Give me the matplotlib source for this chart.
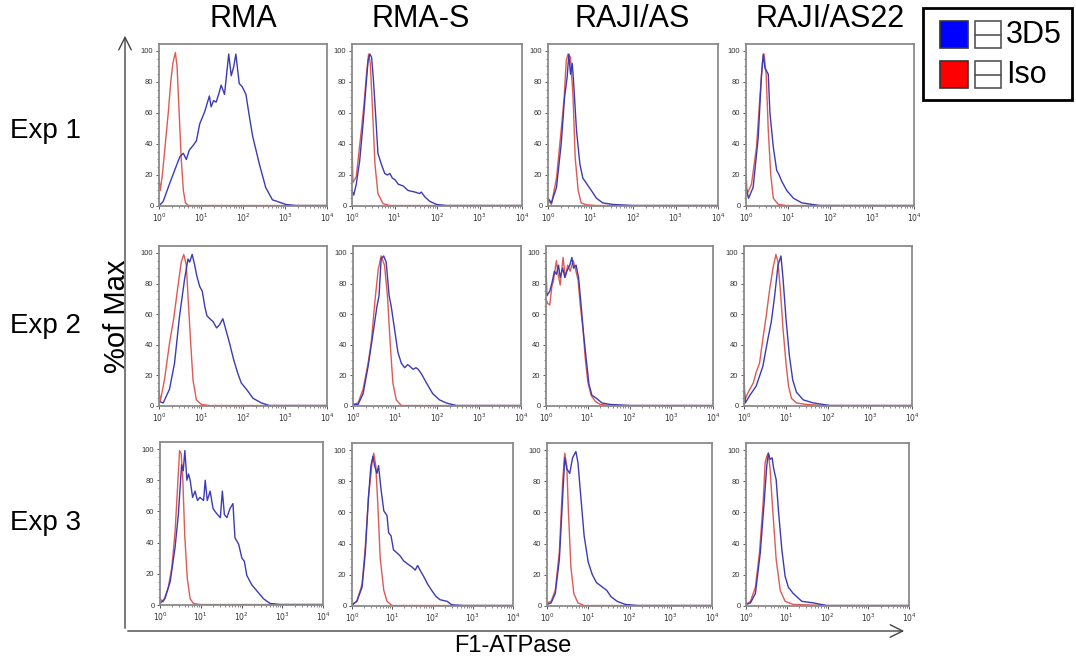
import numpy as np
import matplotlib
matplotlib.use("Agg")
import matplotlib.pyplot as plt
from matplotlib.ticker import FixedLocator, LogLocator, NullFormatter, MultipleLocator

plt.rcParams['font.family'] = ['Liberation Sans', 'DejaVu Sans']

# ---- data: (log10 fluorescence, % of max) ----
cell_lines = ["RMA", "RMA-S", "RAJI/AS", "RAJI/AS22"]
experiments = ["Exp 1", "Exp 2", "Exp 3"]
series_names = ["3D5", "Iso"]

# Exp 1
rma1_3d5 = [(0, 0), (0.1, 3), (0.26, 15), (0.4, 25), (0.5, 32), (0.58, 34), (0.65, 30), (0.72, 36),
            (0.81, 39), (0.89, 42), (0.97, 53), (1.09, 61), (1.2, 71), (1.24, 64), (1.3, 68),
            (1.36, 67), (1.42, 72), (1.48, 78), (1.56, 72), (1.66, 98), (1.72, 84), (1.78, 90),
            (1.83, 98), (1.91, 79), (1.98, 77), (2.07, 72), (2.15, 58), (2.23, 45), (2.39, 27),
            (2.54, 12), (2.7, 4), (3.02, 1), (3.25, 0.3), (4.0, 0.3)]
rma1_iso = [(0, 18), (0.03, 10), (0.08, 20), (0.15, 40), (0.22, 60), (0.28, 80), (0.33, 92),
            (0.39, 99), (0.43, 90), (0.48, 60), (0.53, 30), (0.58, 10), (0.63, 2), (0.7, 0.3), (4.0, 0.3)]
rmas1_3d5 = [(0, 10), (0.04, 7), (0.1, 14), (0.18, 29), (0.26, 53), (0.34, 81), (0.38, 94), (0.42, 98),
             (0.46, 96), (0.5, 83), (0.56, 57), (0.61, 34), (0.69, 27), (0.77, 21), (0.83, 20),
             (0.89, 21), (0.95, 18), (1.01, 17), (1.09, 14), (1.2, 13), (1.32, 10), (1.48, 9),
             (1.59, 8), (1.63, 9), (1.71, 6), (1.83, 3), (1.99, 1), (2.22, 0.3), (4.0, 0.3)]
rmas1_iso = [(0, 45), (0.02, 15), (0.1, 19), (0.22, 49), (0.28, 65), (0.34, 85), (0.39, 98),
             (0.43, 92), (0.48, 64), (0.54, 27), (0.61, 8), (0.73, 1.5), (0.89, 0.3), (4.0, 0.3)]
raji1_3d5 = [(0, 5), (0.08, 2), (0.2, 12), (0.31, 40), (0.39, 70), (0.45, 83), (0.49, 98), (0.53, 85),
             (0.57, 92), (0.6, 81), (0.67, 49), (0.75, 27), (0.82, 18), (0.92, 14), (1.02, 10),
             (1.14, 5), (1.29, 2), (1.53, 1), (2.0, 0.3), (4.0, 0.3)]
raji1_iso = [(0, 4), (0.08, 1), (0.2, 18), (0.31, 49), (0.38, 70), (0.43, 94), (0.47, 98), (0.53, 96),
             (0.59, 70), (0.64, 31), (0.71, 10), (0.78, 2), (0.9, 0.8), (1.14, 0.3), (4.0, 0.3)]
raji22_1_3d5 = [(0, 12), (0.06, 5), (0.17, 12), (0.29, 44), (0.37, 85), (0.41, 98), (0.45, 89),
                (0.49, 87), (0.53, 85), (0.57, 60), (0.65, 38), (0.73, 23), (0.79, 20), (0.85, 16),
                (0.97, 10), (1.13, 5), (1.33, 2), (1.76, 0.3), (4.0, 0.3)]
raji22_1_iso = [(0, 20), (0.03, 8), (0.13, 14), (0.25, 38), (0.33, 70), (0.39, 92), (0.43, 98),
                (0.48, 85), (0.53, 49), (0.59, 20), (0.65, 5), (0.77, 1), (0.97, 0.3), (4.0, 0.3)]

# Exp 2
rma2_3d5 = [(0, 3), (0.1, 2), (0.25, 11), (0.37, 28), (0.49, 59), (0.61, 83), (0.69, 96), (0.73, 94),
            (0.79, 99), (0.85, 92), (0.9, 85), (0.97, 78), (1.03, 75), (1.09, 65), (1.14, 59),
            (1.21, 57), (1.29, 55), (1.37, 51), (1.44, 53), (1.52, 57), (1.59, 50), (1.68, 41),
            (1.78, 30), (1.88, 21), (1.96, 15), (2.08, 11), (2.24, 5), (2.44, 2), (2.63, 0.3), (4.0, 0.3)]
rma2_iso = [(0, 10), (0.03, 3), (0.13, 17), (0.25, 41), (0.35, 57), (0.45, 78), (0.53, 94), (0.59, 99),
            (0.65, 92), (0.69, 72), (0.75, 43), (0.81, 17), (0.89, 4), (1.01, 1), (1.21, 0.3), (4.0, 0.3)]
rmas2_3d5 = [(0, 1), (0.12, 1), (0.24, 8), (0.36, 26), (0.48, 48), (0.57, 65), (0.62, 72), (0.67, 96),
             (0.73, 98), (0.79, 94), (0.86, 72), (0.91, 65), (0.99, 50), (1.07, 35), (1.15, 28),
             (1.23, 25), (1.3, 27), (1.35, 26), (1.43, 24), (1.5, 25), (1.55, 24), (1.63, 21),
             (1.75, 15), (1.9, 8), (2.06, 4), (2.22, 2), (2.46, 0.3), (4.0, 0.3)]
rmas2_iso = [(0, 1), (0.12, 2), (0.24, 11), (0.36, 28), (0.44, 43), (0.52, 68), (0.6, 89), (0.67, 98),
             (0.75, 92), (0.82, 72), (0.89, 39), (0.95, 15), (1.03, 4), (1.15, 0.3), (4.0, 0.3)]
raji2_3d5 = [(0, 92), (0.02, 72), (0.09, 75), (0.14, 80), (0.2, 88), (0.25, 86), (0.3, 92), (0.34, 84),
             (0.4, 90), (0.45, 84), (0.5, 88), (0.57, 92), (0.62, 97), (0.66, 90), (0.72, 92),
             (0.78, 84), (0.84, 66), (0.9, 47), (0.97, 29), (1.03, 14), (1.1, 7), (1.21, 5),
             (1.34, 2), (1.54, 1), (2.02, 0.3), (4.0, 0.3)]
raji2_iso = [(0, 70), (0.04, 67), (0.09, 66), (0.14, 78), (0.18, 82), (0.25, 95), (0.29, 86), (0.34, 79),
             (0.41, 97), (0.46, 84), (0.52, 92), (0.58, 88), (0.65, 95), (0.7, 90), (0.77, 82),
             (0.82, 66), (0.89, 49), (0.94, 31), (1.0, 16), (1.08, 7), (1.18, 3), (1.3, 1),
             (1.54, 0.3), (4.0, 0.3)]
raji22_2_3d5 = [(0, 13), (0.03, 2), (0.14, 7), (0.29, 13), (0.45, 26), (0.57, 44), (0.65, 55), (0.73, 72),
                (0.81, 92), (0.88, 98), (0.93, 83), (1.0, 57), (1.08, 33), (1.16, 17), (1.25, 9),
                (1.41, 4), (1.65, 2), (2.05, 0.3), (4.0, 0.3)]
raji22_2_iso = [(0, 22), (0.02, 4), (0.1, 9), (0.22, 15), (0.29, 22), (0.37, 28), (0.45, 44), (0.53, 59),
                (0.61, 76), (0.69, 90), (0.76, 99), (0.81, 94), (0.87, 74), (0.93, 50), (1.0, 28),
                (1.06, 13), (1.13, 5), (1.25, 2), (1.49, 1), (1.89, 0.3), (4.0, 0.3)]

# Exp 3
rma3_3d5 = [(0, 1), (0.12, 4), (0.25, 15), (0.37, 37), (0.45, 58), (0.53, 90), (0.57, 86), (0.61, 99),
            (0.66, 80), (0.7, 84), (0.74, 80), (0.8, 69), (0.86, 73), (0.92, 67), (0.98, 69),
            (1.07, 67), (1.11, 80), (1.16, 67), (1.23, 73), (1.3, 62), (1.35, 60), (1.41, 58),
            (1.48, 56), (1.53, 73), (1.58, 58), (1.64, 56), (1.72, 62), (1.79, 65), (1.84, 43),
            (1.93, 39), (2.01, 30), (2.07, 28), (2.13, 19), (2.25, 13), (2.38, 9), (2.54, 4),
            (2.7, 1), (2.95, 0.3), (4.0, 0.3)]
rma3_iso = [(0, 4), (0.08, 2), (0.2, 11), (0.29, 24), (0.37, 47), (0.43, 75), (0.48, 99), (0.52, 97),
            (0.56, 80), (0.61, 43), (0.67, 17), (0.74, 4), (0.82, 1), (0.98, 0.3), (4.0, 0.3)]
rmas3_3d5 = [(0, 0.5), (0.12, 3), (0.25, 12), (0.33, 34), (0.41, 70), (0.47, 90), (0.52, 96), (0.56, 90),
             (0.62, 85), (0.66, 90), (0.72, 75), (0.79, 61), (0.87, 58), (0.91, 47), (0.97, 45),
             (1.03, 36), (1.12, 34), (1.2, 32), (1.28, 29), (1.38, 27), (1.49, 25), (1.57, 23),
             (1.63, 26), (1.69, 23), (1.78, 19), (1.88, 14), (1.98, 10), (2.09, 6), (2.19, 4),
             (2.36, 3), (2.48, 0.8), (2.77, 0.3), (4.0, 0.3)]
rmas3_iso = [(0, 1), (0.12, 3), (0.25, 14), (0.33, 38), (0.41, 70), (0.5, 92), (0.54, 98), (0.59, 90),
             (0.64, 66), (0.7, 31), (0.79, 10), (0.87, 3), (0.99, 0.3), (4.0, 0.3)]
raji3_3d5 = [(0, 1), (0.1, 2), (0.2, 8), (0.3, 30), (0.38, 70), (0.43, 95), (0.48, 88), (0.55, 85),
             (0.62, 95), (0.7, 99), (0.75, 92), (0.82, 70), (0.9, 45), (1.0, 28), (1.1, 20),
             (1.2, 15), (1.35, 12), (1.45, 10), (1.55, 6), (1.7, 3), (1.9, 1), (2.2, 0.3), (4.0, 0.3)]
raji3_iso = [(0, 2), (0.1, 3), (0.2, 10), (0.3, 35), (0.38, 80), (0.43, 98), (0.48, 90), (0.52, 60),
             (0.58, 25), (0.65, 8), (0.75, 2), (0.9, 0.3), (4.0, 0.3)]
raji22_3_3d5 = [(0, 1), (0.11, 2), (0.23, 8), (0.35, 34), (0.45, 68), (0.51, 90), (0.55, 98), (0.59, 94),
                (0.64, 95), (0.68, 88), (0.74, 81), (0.8, 60), (0.88, 36), (0.96, 19), (1.04, 12),
                (1.16, 8), (1.37, 3), (1.65, 2), (1.98, 0.3), (4.0, 0.3)]
raji22_3_iso = [(0, 1), (0.11, 3), (0.23, 12), (0.33, 34), (0.42, 66), (0.47, 92), (0.51, 96), (0.55, 98),
                (0.59, 88), (0.66, 60), (0.74, 30), (0.84, 10), (0.96, 3), (1.16, 1), (1.98, 0.3), (4.0, 0.3)]

panels = [[(rma1_3d5, rma1_iso), (rmas1_3d5, rmas1_iso), (raji1_3d5, raji1_iso), (raji22_1_3d5, raji22_1_iso)],
          [(rma2_3d5, rma2_iso), (rmas2_3d5, rmas2_iso), (raji2_3d5, raji2_iso), (raji22_2_3d5, raji22_2_iso)],
          [(rma3_3d5, rma3_iso), (rmas3_3d5, rmas3_iso), (raji3_3d5, raji3_iso), (raji22_3_3d5, raji22_3_iso)]]

# ---- layout (pixel boxes: left, right, top, bottom) ----
W, H = 1076, 660
boxes = [[(159, 327, 44, 206), (352, 522, 44, 206), (548, 718, 44, 206), (746, 914, 44, 206)],
         [(159, 327, 246, 406), (353, 521, 246, 406), (546, 713, 246, 406), (744, 912, 246, 406)],
         [(160, 323, 442, 605), (352, 513, 443, 606), (547, 712, 443, 606), (746, 909, 443, 606)]]

BLUE = "#3b3bb5"
RED = "#dd5a55"
FRAME = "#8a8a8a"


def fx(x):
    return x / W


def fy(y):
    return 1 - y / H


fig = plt.figure(figsize=(W / 100, H / 100), dpi=100)

for r in range(3):
    for c in range(4):
        l, rr, t, b = boxes[r][c]
        ax = fig.add_axes([fx(l), fy(b), fx(rr) - fx(l), fy(t) - fy(b)])
        blue, red = panels[r][c]
        for pts, col in ((red, RED), (blue, BLUE)):
            lx = np.array([p[0] for p in pts])
            yy = np.array([p[1] for p in pts])
            ax.plot(10 ** lx, yy, color=col, lw=1.0)
        ax.set_xscale("log")
        ax.set_xlim(1, 1e4)
        ax.set_ylim(0, 104.5)
        ax.xaxis.set_major_locator(FixedLocator([1, 10, 100, 1000, 10000]))
        ax.set_xticklabels([r"$10^{0}$", r"$10^{1}$", r"$10^{2}$", r"$10^{3}$", r"$10^{4}$"])
        ax.xaxis.set_minor_locator(LogLocator(base=10, subs=np.arange(2, 10)))
        ax.xaxis.set_minor_formatter(NullFormatter())
        ax.set_yticks([0, 20, 40, 60, 80, 100])
        ax.yaxis.set_minor_locator(MultipleLocator(5))
        ax.tick_params(which="major", length=2.5, width=0.7, color="#555555",
                       labelsize=5.5, labelcolor="#333333", pad=1.5)
        ax.tick_params(which="minor", length=1.5, width=0.5, color="#555555")
        for s in ax.spines.values():
            s.set_color(FRAME)
            s.set_linewidth(1.3)

# column titles and row labels
col_x = [243, 421, 632, 830]
for name, x in zip(cell_lines, col_x):
    fig.text(fx(x), fy(19), name, ha="center", va="center", fontsize=22)
row_y = [131, 326, 523]
for name, y in zip(experiments, row_y):
    fig.text(fx(10), fy(y), name, ha="left", va="center", fontsize=20)

# axis arrows
arr = dict(arrowstyle="->,head_length=0.9,head_width=0.45", color="#444444", lw=1.0)
fig.add_artist(matplotlib.patches.FancyArrowPatch((fx(125), fy(631)), (fx(125), fy(33)),
                                                  transform=fig.transFigure, mutation_scale=10, **arr))
fig.add_artist(matplotlib.patches.FancyArrowPatch((fx(125), fy(631)), (fx(907), fy(631)),
                                                  transform=fig.transFigure, mutation_scale=10, **arr))
fig.text(fx(117), fy(316), "%of Max", rotation=90, ha="center", va="center", fontsize=21)
fig.text(fx(513), fy(646), "F1-ATPase", ha="center", va="center", fontsize=17)

# legend box
fig.add_artist(plt.Rectangle((fx(923), fy(100)), fx(1072) - fx(923), fy(8) - fy(100),
                             transform=fig.transFigure, fill=False, ec="black", lw=2))
for name, col, yc in zip(series_names, ["#0000ff", "#ff0000"], [35, 75]):
    fig.add_artist(plt.Rectangle((fx(940), fy(yc + 13)), fx(28), fy(0) - fy(27),
                                 transform=fig.transFigure, fc=col, ec="#333333", lw=1.2))
    fig.add_artist(plt.Rectangle((fx(975), fy(yc + 13)), fx(26), fy(0) - fy(27),
                                 transform=fig.transFigure, fc="white", ec="#555555", lw=1.2))
    fig.add_artist(plt.Line2D([fx(975), fx(1001)], [fy(yc), fy(yc)],
                              transform=fig.transFigure, color="#555555", lw=1.2))
    fig.text(fx(1006), fy(yc), name, ha="left", va="center", fontsize=22)

fig.savefig("out.png", dpi=100)
